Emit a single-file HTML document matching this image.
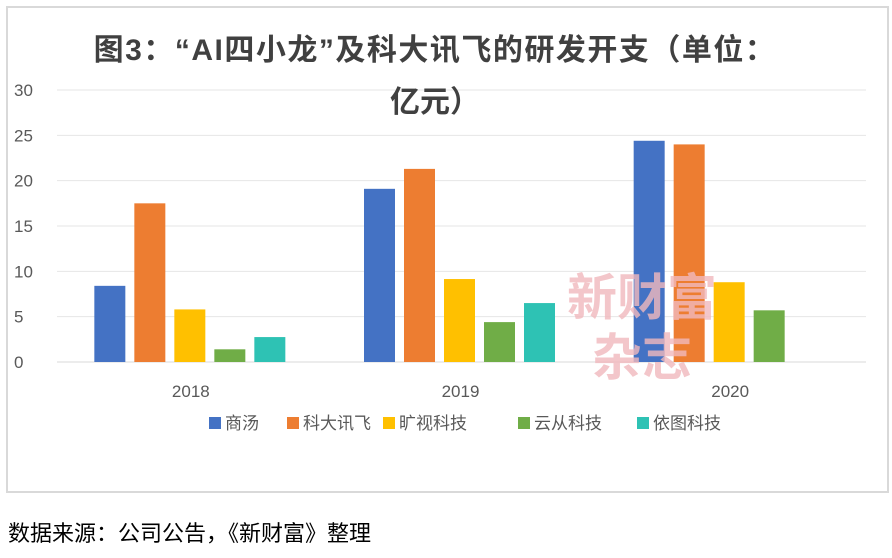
<!DOCTYPE html>
<html><head><meta charset="utf-8"><style>
body{margin:0;background:#fff;width:892px;height:553px;overflow:hidden;font-family:"Liberation Sans","Noto Sans CJK SC",sans-serif}
svg text{font-family:"Liberation Sans","Noto Sans CJK SC",sans-serif}
</style></head><body>
<svg width="892" height="553">
<rect x="7" y="7" width="881" height="485" fill="#fff" stroke="#d9d9d9" stroke-width="2"/>
<g id="grid"></g>
<text x="435" y="60" text-anchor="middle" font-size="30" font-weight="bold" fill="#404040" letter-spacing="1.5">图3：“AI四小龙”及科大讯飞的研发开支（单位：</text>
<text x="435" y="112" text-anchor="middle" font-size="30" font-weight="bold" fill="#404040">亿元）</text>
<g id="bars"></g>
<g id="xl"></g>
<text x="642" y="315" text-anchor="middle" font-size="50" font-weight="bold" fill="#f1b9bd" opacity="0.8">新财富</text>
<text x="642" y="375" text-anchor="middle" font-size="50" font-weight="bold" fill="#f1b9bd" opacity="0.8">杂志</text>
<g id="legend"></g>
<text x="8" y="541" font-size="22" fill="#000">数据来源：公司公告，《新财富》整理</text>
</svg>
<script>
const categories=["2018","2019","2020"];
const seriesNames=["商汤","科大讯飞","旷视科技","云从科技","依图科技"];
const colors=["#4472c4","#ed7d31","#ffc000","#70ad47","#2ec2b4"];
const shangtang=[8.4,19.1,24.4];
const iflytek=[17.5,21.3,24.0];
const megvii=[5.8,9.15,8.8];
const cloudwalk=[1.4,4.4,5.7];
const yitu=[2.75,6.5,null];
const yTicks=[0,5,10,15,20,25,30];
const series=[shangtang,iflytek,megvii,cloudwalk,yitu];
const NS="http://www.w3.org/2000/svg";
const x0=55,x1=864,yBase=362,yTop=90,yMax=30;
const y=v=>yBase-(v/yMax)*(yBase-yTop);
const catW=(x1-x0)/categories.length;
function mk(t,a,p){const e=document.createElementNS(NS,t);for(const k in a)e.setAttribute(k,a[k]);document.getElementById(p).appendChild(e);return e;}
yTicks.forEach(t=>{
 const l=mk("line",{x1:x0+2,x2:x1+2,y1:y(t),y2:y(t),stroke:t===0?"#d9d9d9":"#e6e6e6","stroke-width":1},"grid");
 
 
 const tx=mk("text",{x:14,y:y(t)+6,"font-size":17,fill:"#595959"},"grid");
 tx.textContent=t;
 
 
});
const bw=31,step=40;
categories.forEach((c,i)=>{
 const cx=x0+catW*(i+0.5);
 series.forEach((s,j)=>{
  const v=s[i]; if(v==null)return;
  const bx=cx-2*step-bw/2+j*step;
  const r=mk("rect",{x:bx,y:y(v),width:bw,height:yBase-y(v),fill:colors[j]},"bars");
  
  
 });
 const t=mk("text",{x:cx+1,y:397,"text-anchor":"middle","font-size":17,fill:"#595959"},"xl");
 t.textContent=c;
 
 
});
const lx=[209,287,383,518,637];
seriesNames.forEach((n,j)=>{
 const g=mk("g",{},"legend");
 
 
 const r=document.createElementNS(NS,"rect");
 r.setAttribute("x",lx[j]);r.setAttribute("y",417);r.setAttribute("width",12);r.setAttribute("height",12);r.setAttribute("fill",colors[j]);
 g.appendChild(r);
 const t=document.createElementNS(NS,"text");
 t.setAttribute("x",lx[j]+16);t.setAttribute("y",429);t.setAttribute("font-size",17);t.setAttribute("fill","#595959");
 t.textContent=n;g.appendChild(t);
});
</script>
</body></html>
